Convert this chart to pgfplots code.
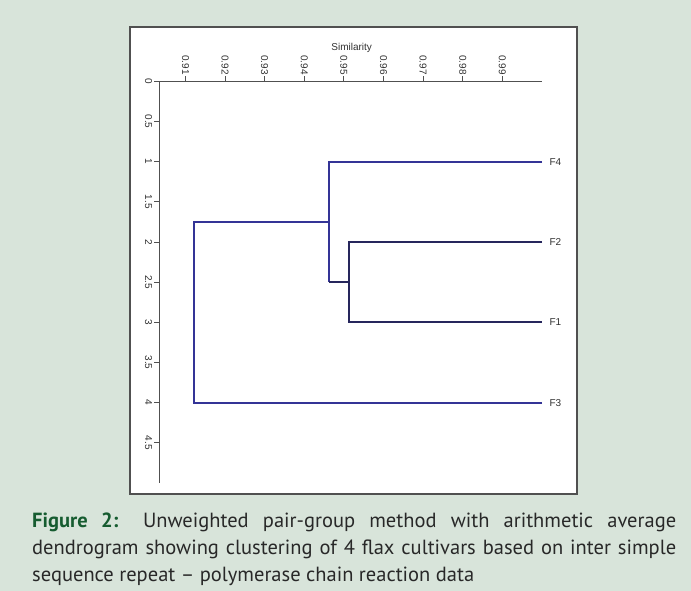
\documentclass[border=0pt]{standalone}
\usepackage{fontspec}
\setmainfont{Liberation Sans}
\newfontfamily\capfont{PT Sans}
\usepackage{pgfplots}
\pgfplotsset{compat=1.18}
\definecolor{bg}{RGB}{216,228,218}
\definecolor{dblue}{RGB}{52,52,150}
\definecolor{dnavy}{RGB}{38,38,92}
\definecolor{figgreen}{RGB}{22,92,48}
\definecolor{axgray}{RGB}{80,80,80}
\definecolor{txtgray}{RGB}{50,50,50}
\definecolor{captxt}{RGB}{40,40,40}
\begin{document}
\begin{tikzpicture}
\fill[bg] (0pt,0pt) rectangle (691pt,-591pt);
\useasboundingbox (0pt,0pt) rectangle (691pt,-591pt);
\filldraw[fill=white, draw=axgray, line width=1.2pt] (130pt,-27pt) rectangle (577pt,-494pt);
\node[font=\fontsize{10}{12}\selectfont, text=txtgray] at (351.7pt,-48pt) {Similarity};
\begin{axis}[
  at={(159.3pt,-81.4pt)}, anchor=north west,
  scale only axis, width=382.7pt, height=401.6pt,
  xmin=0.9034, xmax=1.0, ymin=0, ymax=5, y dir=reverse,
  axis x line=top, axis y line=left,
  axis line style={-, axgray, line width=1.4pt},
  xtick={0.91,0.92,0.93,0.94,0.95,0.96,0.97,0.98,0.99},
  xticklabels={0.91,0.92,0.93,0.94,0.95,0.96,0.97,0.98,0.99},
  ytick={0,0.5,1,1.5,2,2.5,3,3.5,4,4.5},
  yticklabels={0,0.5,1,1.5,2,2.5,3,3.5,4,4.5},
  tick align=outside, major tick length=5pt,
  tick style={axgray, line width=1pt},
  x tick label style={rotate=-90, anchor=east, font=\fontsize{10}{10}\selectfont, text=txtgray, inner sep=1.5pt},
  y tick label style={rotate=-90, anchor=north, font=\fontsize{10}{10}\selectfont, text=txtgray, inner sep=2pt},
  clip=false,
]
\addplot[dblue, line width=2pt] coordinates {(1.0,1) (0.9462,1) (0.9462,2.5)};
\addplot[dnavy, line width=2pt] coordinates {(0.9462,2.5) (0.9514,2.5)};
\addplot[dnavy, line width=2pt] coordinates {(1.0,2) (0.9514,2) (0.9514,3) (1.0,3)};
\addplot[dblue, line width=2pt] coordinates {(1.0,4) (0.9121,4) (0.9121,1.75) (0.9462,1.75)};
\node[anchor=west, xshift=4pt, font=\fontsize{10}{12}\selectfont, text=txtgray] at (axis cs:1.0,1) {F4};
\node[anchor=west, xshift=4pt, font=\fontsize{10}{12}\selectfont, text=txtgray] at (axis cs:1.0,2) {F2};
\node[anchor=west, xshift=4pt, font=\fontsize{10}{12}\selectfont, text=txtgray] at (axis cs:1.0,3) {F1};
\node[anchor=west, xshift=4pt, font=\fontsize{10}{12}\selectfont, text=txtgray] at (axis cs:1.0,4) {F3};
\end{axis}
\node[anchor=base west, inner sep=0pt, font=\capfont\fontsize{20.5}{27}\selectfont, text=captxt] at (32pt,-527pt) {\makebox[644pt][s]{\textcolor{figgreen}{\bfseries Figure 2:} Unweighted pair-group method with arithmetic average}};
\node[anchor=base west, inner sep=0pt, font=\capfont\fontsize{20.5}{27}\selectfont, text=captxt] at (32pt,-554pt) {\makebox[644pt][s]{dendrogram showing clustering of 4 flax cultivars based on inter simple}};
\node[anchor=base west, inner sep=0pt, font=\capfont\fontsize{20.5}{27}\selectfont, text=captxt] at (32pt,-581pt) {sequence repeat – polymerase chain reaction data};
\end{tikzpicture}
\end{document}
